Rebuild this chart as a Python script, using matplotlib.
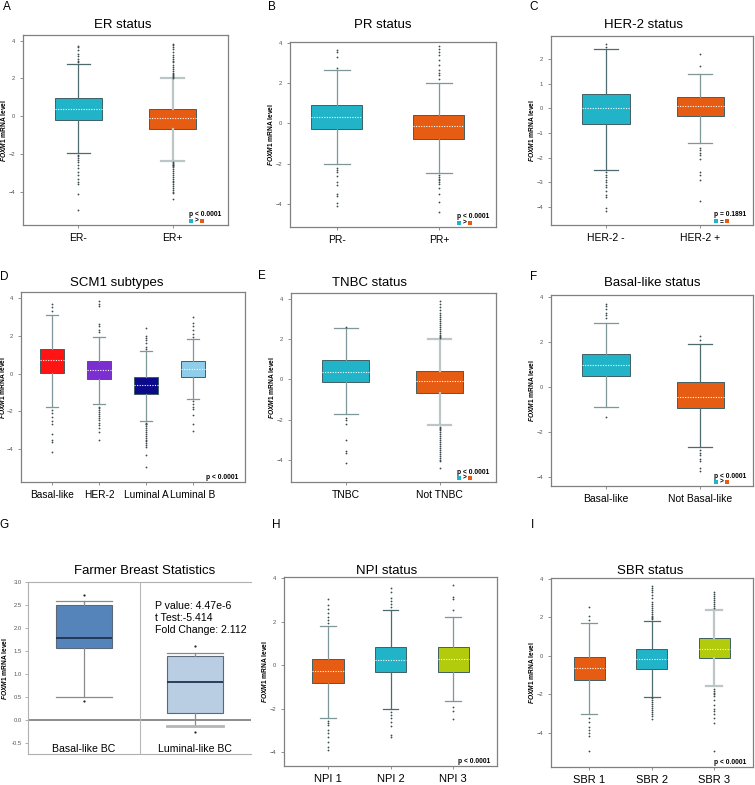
import matplotlib
matplotlib.use('Agg')
import matplotlib.pyplot as plt
from matplotlib.patches import Rectangle
from matplotlib.transforms import ScaledTranslation

plt.rcParams['font.family'] = ['Liberation Sans', 'DejaVu Sans']
plt.rcParams['mathtext.fontset'] = 'custom'
plt.rcParams['mathtext.it'] = 'Liberation Sans:italic:bold'
plt.rcParams['mathtext.rm'] = 'Liberation Sans:bold'

# colours
CYAN = '#21b4c8'
ORANGE = '#e65c12'
RED = '#ff1414'
PURPLE = '#7b2fd0'
NAVY = '#0a0a8a'
SKY = '#8fcdea'
LIME = '#b2cb0a'
DARK, MID, LIGHT = '#4d6b6e', '#7f9799', '#bcc6c6'

# ---------------- data ----------------
# A  ER status
er_labels = ['ER-', 'ER+']
er_q1 = [-0.19, -0.69]
er_med = [0.39, -0.11]
er_q3 = [0.96, 0.41]
er_lo = [-1.96, -2.35]
er_hi = [2.76, 2.00]
er_out = [[2.85, 2.95, 3.05, 3.2, 3.3, 3.5, 3.65, 3.72,
           -2.05, -2.1, -2.2, -2.3, -2.4, -2.55, -2.75, -2.95, -3.1, -3.3, -3.5, -3.6, -4.1, -4.95],
          [2.05, 2.1, 2.15, 2.2, 2.25, 2.3, 2.4, 2.5, 2.6, 2.7, 2.85, 2.95, 3.05, 3.15, 3.25, 3.4,
           3.55, 3.65, 3.75, 3.85,
           -2.4, -2.45, -2.5, -2.55, -2.6, -2.65, -2.7, -2.8, -2.9, -3.0, -3.1, -3.2, -3.3, -3.4,
           -3.5, -3.6, -3.7, -3.8, -3.9, -4.0, -4.05, -4.4]]

# B  PR status
pr_labels = ['PR-', 'PR+']
pr_q1 = [-0.27, -0.75]
pr_med = [0.30, -0.15]
pr_q3 = [0.90, 0.42]
pr_lo = [-2.03, -2.47]
pr_hi = [2.68, 2.02]
pr_out = [[2.75, 3.3, 3.55, 3.65,
           -2.2, -2.3, -2.4, -2.6, -2.9, -3.05, -3.5, -3.6, -3.95, -4.1],
          [2.2, 2.4, 2.5, 2.65, 2.9, 3.15, 3.4, 3.55, 3.7, 3.85,
           -2.55, -2.65, -2.75, -2.8, -2.9, -3.0, -3.2, -3.5, -3.9, -4.4]]

# C  HER-2 status
her_labels = ['HER-2 -', 'HER-2 +']
her_q1 = [-0.64, -0.30]
her_med = [0.0, 0.09]
her_q3 = [0.58, 0.45]
her_lo = [-2.50, -1.41]
her_hi = [2.41, 1.39]
her_out = [[2.5, 2.6,
            -2.6, -2.7, -2.8, -2.9, -3.0, -3.1, -3.2, -3.35, -3.5, -3.6, -4.05, -4.15],
           [1.7, 2.2,
            -1.6, -1.7, -1.8, -1.9, -2.05, -2.6, -2.7, -2.9, -3.75]]

# D  SCM1 subtypes
scm_labels = ['Basal-like', 'HER-2', 'Luminal A', 'Luminal B']
scm_q1 = [0.05, -0.30, -1.11, -0.19]
scm_med = [0.69, 0.19, -0.62, 0.25]
scm_q3 = [1.29, 0.64, -0.19, 0.64]
scm_lo = [-1.77, -1.63, -2.53, -1.36]
scm_hi = [3.11, 1.96, 1.20, 1.82]
scm_out = [[3.3, 3.5, 3.7,
            -1.95, -2.1, -2.3, -2.5, -2.7, -3.2, -3.55, -3.65, -4.15],
           [2.2, 2.3, 2.5, 2.6, 3.6, 3.7, 3.85,
            -1.75, -1.85, -1.95, -2.05, -2.15, -2.25, -2.35, -2.45, -2.6, -2.75, -2.9, -3.1, -3.5],
           [1.3, 1.4, 1.6, 1.75, 1.9, 2.0, 2.4,
            -2.6, -2.65, -2.7, -2.8, -2.9, -3.0, -3.1, -3.2, -3.3, -3.4, -3.5, -3.6, -3.7, -3.8,
            -3.9, -4.3, -4.95],
           [1.95, 2.1, 2.3, 2.5, 2.7, 3.0,
            -1.45, -1.6, -1.8, -1.9, -2.2, -2.65, -3.05]]

# E  TNBC status
tn_labels = ['TNBC', 'Not TNBC']
tn_q1 = [-0.13, -0.66]
tn_med = [0.38, -0.08]
tn_q3 = [0.96, 0.41]
tn_lo = [-1.72, -2.28]
tn_hi = [2.55, 2.00]
tn_out = [[2.62, -1.9, -2.0, -2.2, -3.0, -3.55, -3.65, -4.15],
          [2.05, 2.1, 2.15, 2.2, 2.3, 2.4, 2.5, 2.6, 2.7, 2.8, 2.9, 3.0, 3.1, 3.2, 3.3, 3.45, 3.6,
           3.75, 3.9,
           -2.35, -2.4, -2.45, -2.5, -2.6, -2.7, -2.8, -2.9, -3.0, -3.1, -3.2, -3.3, -3.4, -3.5,
           -3.6, -3.7, -3.8, -3.9, -4.0, -4.05, -4.4]]

# F  Basal-like status
bl_labels = ['Basal-like', 'Not Basal-like']
bl_q1 = [0.49, -0.94]
bl_med = [0.98, -0.45]
bl_q3 = [1.47, 0.22]
bl_lo = [-0.89, -2.68]
bl_hi = [2.86, 1.92]
bl_out = [[3.05, 3.2, 3.3, 3.45, 3.6, 3.7, -1.35],
          [2.1, 2.25, -2.8, -2.95, -3.0, -3.2, -3.3, -3.6, -3.75]]

# G  Farmer Breast Statistics
fa_labels = ['Basal-like BC', 'Luminal-like BC']
fa_q1 = [1.56, 0.15]
fa_med = [1.78, 0.83]
fa_q3 = [2.50, 1.40]
fa_lo = [0.50, -0.13]
fa_hi = [2.58, 1.45]
fa_out = [[2.72, 0.42], [1.60, -0.26]]
fa_stats = ['P value: 4.47e-6', 't Test:-5.414', 'Fold Change: 2.112']
fa_ticks = [-0.5, 0.0, 0.5, 1.0, 1.5, 2.0, 2.5, 3.0]

# H  NPI status
npi_labels = ['NPI 1', 'NPI 2', 'NPI 3']
npi_q1 = [-0.83, -0.34, -0.31]
npi_med = [-0.26, 0.25, 0.29]
npi_q3 = [0.28, 0.83, 0.83]
npi_lo = [-2.43, -2.02, -1.65]
npi_hi = [1.81, 2.54, 2.21]
npi_out = [[1.95, 2.05, 2.2, 2.4, 2.6, 2.75, 3.05,
            -2.55, -2.65, -2.75, -3.0, -3.1, -3.3, -3.55, -3.75, -3.9],
           [2.65, 2.8, 2.95, 3.1, 3.35, 3.55,
            -2.15, -2.3, -2.45, -2.6, -2.8, -3.2, -3.3],
           [2.55, 3.05, 3.15, 3.7, -1.95, -2.1, -2.5]]

# I  SBR status
sbr_labels = ['SBR 1', 'SBR 2', 'SBR 3']
sbr_q1 = [-1.27, -0.66, -0.09]
sbr_med = [-0.61, -0.14, 0.38]
sbr_q3 = [-0.03, 0.35, 0.92]
sbr_lo = [-3.02, -2.13, -1.58]
sbr_hi = [1.70, 1.80, 2.41]
sbr_out = [[1.85, 2.05, 2.55, -3.2, -3.45, -3.7, -3.85, -4.0, -4.15, -4.95],
           [1.9, 1.95, 2.0, 2.1, 2.2, 2.3, 2.4, 2.5, 2.6, 2.7, 2.8, 3.0, 3.15, 3.3, 3.45, 3.55, 3.65,
            -2.2, -2.3, -2.4, -2.5, -2.6, -2.7, -2.8, -2.9, -3.0, -3.1, -3.3],
           [2.5, 2.6, 2.7, 2.8, 2.9, 3.0, 3.1, 3.2, 3.3,
            -1.7, -1.8, -1.9, -2.0, -2.1, -2.3, -2.55, -2.75, -2.85, -3.0, -3.2, -3.5, -4.95]]

# ---------------- figure ----------------
W, H = 755, 785
fig = plt.figure(figsize=(W / 100, H / 100), dpi=100)


def px_axes(x0, y0, x1, y1):
    return fig.add_axes([x0 / W, 1 - y1 / H, (x1 - x0) / W, (y1 - y0) / H])


def fig_text(x, y, s, **kw):
    fig.text(x / W, 1 - y / H, s, **kw)


def box_panel(rect, labels, q1, med, q3, lo, hi, out, colors, wcols,
              xlim, ylim, yticks, xsize=7.5, lab_off=15):
    ax = px_axes(*rect)
    stats = [dict(q1=a, med=m, q3=b, whislo=l, whishi=h, fliers=f)
             for a, m, b, l, h, f in zip(q1, med, q3, lo, hi, out)]
    bp = ax.bxp(stats, positions=range(1, len(stats) + 1), widths=0.5,
                capwidths=0.25, patch_artist=True,
                boxprops=dict(lw=0.7, edgecolor='#3f5f62'),
                medianprops=dict(color='white', lw=0.8, ls=(0, (1, 1.3))),
                flierprops=dict(marker='o', ms=1.3, mfc='#3d4b4c', mec='none'),
                whiskerprops=dict(lw=0.9), capprops=dict(lw=0.9))
    for patch, c in zip(bp['boxes'], colors):
        patch.set_facecolor(c)
    for i, wc in enumerate(wcols):
        lw = 1.6 if wc == LIGHT else 0.9
        for ln in bp['whiskers'][2 * i:2 * i + 2] + bp['caps'][2 * i:2 * i + 2]:
            ln.set_color(wc)
            ln.set_linewidth(lw)
    ax.set_xlim(*xlim)
    ax.set_ylim(*ylim)
    ax.set_yticks(yticks)
    ax.set_xticks(range(1, len(labels) + 1))
    ax.set_xticklabels(labels)
    for s in ax.spines.values():
        s.set_color('#808080')
        s.set_linewidth(0.9)
    ax.tick_params(axis='y', labelsize=4.2, labelcolor='#555555', color='#808080',
                   length=2.5, width=0.6, pad=3)
    ax.tick_params(axis='x', labelsize=xsize, color='#808080', length=2.5, width=0.6, pad=3)
    ax.set_ylabel(r'$\mathit{FOXM1}$ mRNA level', fontsize=4.8, fontweight='bold')
    ax.yaxis.set_label_coords(-lab_off / (rect[2] - rect[0]), 0.5)
    return ax


def p_note(ax, text, sign=None):
    up = 7.2 if sign else 3.3
    ax.annotate(text, xy=(1, 0), xycoords='axes fraction', xytext=(-5, up),
                textcoords='offset points', ha='right', va='center',
                fontsize=4.8, fontweight='bold')
    if sign:
        # small colour keys, sized in points from the bottom-right corner
        tr = fig.dpi_scale_trans + ScaledTranslation(1, 0, ax.transAxes)
        for x0, c in [(-28.3, CYAN), (-20.3, ORANGE)]:
            ax.add_patch(Rectangle((x0 / 72, 1.1 / 72), 3.3 / 72, 3.3 / 72, transform=tr,
                                   facecolor=c, edgecolor='none', clip_on=False))
        ax.annotate(sign, xy=(1, 0), xycoords='axes fraction', xytext=(-22.7, 2.6),
                    textcoords='offset points', ha='center', va='center',
                    fontsize=4.8, fontweight='bold')


ticks4 = [-4, -2, 0, 2, 4]

axA = box_panel((23, 35, 228, 225), er_labels, er_q1, er_med, er_q3, er_lo, er_hi, er_out,
                [CYAN, ORANGE], [DARK, LIGHT], (0.41, 2.59), (-5.75, 4.3), ticks4)
p_note(axA, 'p < 0.0001', '>')

axB = box_panel((290, 42, 496, 227), pr_labels, pr_q1, pr_med, pr_q3, pr_lo, pr_hi, pr_out,
                [CYAN, ORANGE], [MID, MID], (0.54, 2.56), (-5.15, 4.05), ticks4)
p_note(axB, 'p < 0.0001', '>')

axC = box_panel((551, 36, 753, 225), her_labels, her_q1, her_med, her_q3, her_lo, her_hi, her_out,
                [CYAN, ORANGE], [DARK, MID], (0.416, 2.56), (-4.73, 2.93),
                [-4, -3, -2, -1, 0, 1, 2])
p_note(axC, 'p = 0.1891', '=')

axD = box_panel((21, 292, 245, 482), scm_labels, scm_q1, scm_med, scm_q3, scm_lo, scm_hi, scm_out,
                [RED, PURPLE, NAVY, SKY], [MID, MID, MID, MID], (0.34, 5.11), (-5.75, 4.32),
                ticks4, xsize=7.3, lab_off=13.5)
p_note(axD, 'p < 0.0001')

axE = box_panel((291, 293, 496, 482), tn_labels, tn_q1, tn_med, tn_q3, tn_lo, tn_hi, tn_out,
                [CYAN, ORANGE], [MID, LIGHT], (0.416, 2.6), (-5.1, 4.3), ticks4)
p_note(axE, 'p < 0.0001', '>')

axF = box_panel((551, 295, 753, 486), bl_labels, bl_q1, bl_med, bl_q3, bl_lo, bl_hi, bl_out,
                [CYAN, ORANGE], [MID, DARK], (0.416, 2.56), (-4.4, 4.09), ticks4)
p_note(axF, 'p < 0.0001', '>')

axH = box_panel((284, 577, 497, 766), npi_labels, npi_q1, npi_med, npi_q3, npi_lo, npi_hi, npi_out,
                [ORANGE, CYAN, LIME], [MID, DARK, MID], (0.296, 3.70), (-4.64, 4.05),
                ticks4, xsize=8)
p_note(axH, 'p < 0.0001')

axI = box_panel((551, 578, 753, 767), sbr_labels, sbr_q1, sbr_med, sbr_q3, sbr_lo, sbr_hi, sbr_out,
                [ORANGE, CYAN, LIME], [MID, DARK, LIGHT], (0.39, 3.62), (-5.77, 4.05),
                ticks4, xsize=8)
p_note(axI, 'p < 0.0001')

# G  Farmer panel (different style)
axG = px_axes(28, 582, 251, 754)
g_stats = [dict(q1=a, med=m, q3=b, whislo=l, whishi=h, fliers=f)
           for a, m, b, l, h, f in zip(fa_q1, fa_med, fa_q3, fa_lo, fa_hi, fa_out)]
bpg = axG.bxp(g_stats, positions=[0.5, 1.5], widths=0.5, capwidths=0.5, patch_artist=True,
              boxprops=dict(lw=0.8, edgecolor='#5a6878'),
              medianprops=dict(color='#1e3350', lw=1.3),
              flierprops=dict(marker='o', ms=1.6, mfc='#222222', mec='none'),
              whiskerprops=dict(color='#8a8a8a', lw=0.9),
              capprops=dict(color='#8a8a8a', lw=0.9))
for patch, c in zip(bpg['boxes'], ['#5584bb', '#b9cde3']):
    patch.set_facecolor(c)
bpg['caps'][2].set_color('#b5b5b5')
bpg['caps'][2].set_linewidth(2)
axG.axhline(0, color='#8c8c8c', lw=1.4, zorder=1)
axG.axvline(1, color='#b8b8b8', lw=0.8, zorder=1)
axG.set_xlim(0, 2)
axG.set_ylim(-0.74, 3.0)
axG.set_xticks([])
axG.set_yticks(fa_ticks)
axG.set_yticklabels(['%.1f' % t for t in fa_ticks])
axG.spines['right'].set_visible(False)
for s in ['left', 'top', 'bottom']:
    axG.spines[s].set_color('#b0b0b0')
    axG.spines[s].set_linewidth(0.8)
axG.tick_params(axis='y', labelsize=4.2, labelcolor='#555555', color='#a0a0a0',
                length=2.5, width=0.6, pad=2)
axG.set_ylabel(r'$\mathit{FOXM1}$ mRNA level', fontsize=4.8, fontweight='bold')
axG.yaxis.set_label_coords(-19.5 / 223, 0.5)
for pos, lab in zip([0.5, 1.5], fa_labels):
    axG.text(pos, -0.63, lab, ha='center', va='center', fontsize=7.6)
axG.text(1.14, 2.22, '\n'.join(fa_stats), ha='left', va='center', fontsize=7.6,
         linespacing=1.25)

# titles
for x, y, s in [(123, 25, 'ER status'), (383, 25, 'PR status'), (643, 25, 'HER-2 status'),
                (117, 283, 'SCM1 subtypes'), (370, 283, 'TNBC status'),
                (652, 283, 'Basal-like status'), (145, 571, 'Farmer Breast Statistics'),
                (387, 571, 'NPI status'), (650, 571, 'SBR status')]:
    fig_text(x, y, s, ha='center', va='center', fontsize=9.5)

# panel letters
for x, y, s in [(7, 7, 'A'), (272, 7, 'B'), (534, 7, 'C'), (4, 277, 'D'), (262, 276, 'E'),
                (534, 277, 'F'), (4, 525, 'G'), (276, 525, 'H'), (532, 525, 'I')]:
    fig_text(x, y, s, ha='center', va='center', fontsize=8.5)

fig.savefig('out.png', dpi=100)
